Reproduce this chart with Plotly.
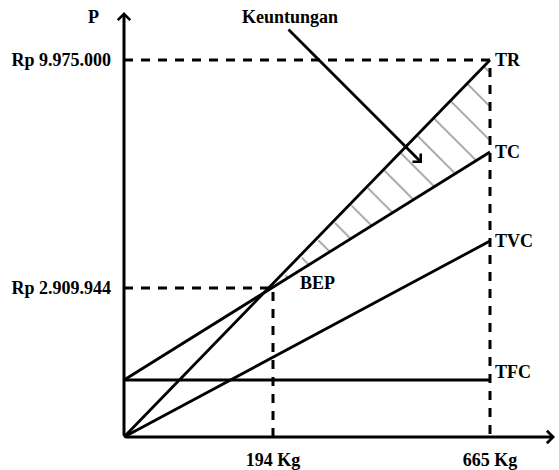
import plotly.graph_objects as go

# Schematic break-even chart (drawing is not to scale, positions are schematic units)
q_labels = ["194 Kg", "665 Kg"]
q_pos = [149, 366]
p_labels = ["Rp 2.909.944", "Rp 9.975.000"]
p_pos = [149, 377]

q_line = [0, 366]
tr = [0, 377]
tc = [57, 285]
tvc = [0, 196]
tfc = [57, 57]
curve_names = ["TR", "TC", "TVC", "TFC"]

FONT = "Liberation Serif"
tf = dict(family=FONT, size=18, color="black", weight="bold")

fig = go.Figure()

# hatched profit area (between TR and TC after BEP)
fig.add_trace(go.Scatter(
    x=[q_pos[0], q_line[1], q_line[1], q_pos[0]],
    y=[p_pos[0], tr[1], tc[1], p_pos[0]],
    fill="toself", mode="none", fillcolor="white",
    fillpattern=dict(shape="\\", size=24, solidity=0.06, fgcolor="#111", bgcolor="white"),
    showlegend=False, hoverinfo="skip"))

# dashed guide lines
dash = dict(color="black", width=3, dash="9px,8px")
fig.add_trace(go.Scatter(x=[0, q_pos[1], q_pos[1]], y=[p_pos[1], p_pos[1], 0],
                         mode="lines", line=dash, showlegend=False))
fig.add_trace(go.Scatter(x=[0, q_pos[0], q_pos[0]], y=[p_pos[0], p_pos[0], 0],
                         mode="lines", line=dash, showlegend=False))

for name, ys in zip(curve_names, [tr, tc, tvc, tfc]):
    fig.add_trace(go.Scatter(x=q_line, y=ys, mode="lines", name=name,
                             line=dict(color="black", width=2.8), showlegend=False))
    fig.add_annotation(x=q_line[1] + 3, y=ys[1] + (8 if name == "TFC" else 0), text=name,
                       showarrow=False, xanchor="left", yanchor="middle", font=tf)

fig.add_annotation(x=q_pos[0] + 25, y=p_pos[0] + 5, text="BEP", showarrow=False,
                   xanchor="left", yanchor="middle", font=tf)

# axes with arrows
for (x, y) in [(0, 425), (431, 0)]:
    fig.add_annotation(x=x, y=y, ax=0, ay=0, axref="x", ayref="y", xref="x", yref="y",
                       text="", showarrow=True, arrowhead=4, arrowsize=0.8,
                       arrowwidth=3, arrowcolor="black", standoff=0, startstandoff=0)
fig.add_annotation(x=-0.047, y=0.966, xref="paper", yref="paper", text="P",
                   xanchor="center", yanchor="middle", showarrow=False, font=tf)
fig.add_annotation(x=425, y=-25, text="Q", showarrow=False, font=tf)

# Keuntungan arrow
fig.add_annotation(x=298, y=274, ax=163, ay=409, axref="x", ayref="y",
                   text="", showarrow=True, arrowhead=4, arrowsize=0.8,
                   arrowwidth=2.8, arrowcolor="black")
fig.add_annotation(x=166, y=420, text="Keuntungan", showarrow=False, font=tf)

fig.update_layout(
    width=559, height=470,
    margin=dict(l=114, r=0, t=2, b=23),
    paper_bgcolor="white", plot_bgcolor="white",
    xaxis=dict(range=[-10, 435], showgrid=False, zeroline=False, showline=False,
               tickvals=q_pos, ticktext=q_labels, ticks="", tickfont=tf,
               ticklabelstandoff=0, automargin=False),
    yaxis=dict(range=[-10, 435], showgrid=False, zeroline=False, showline=False,
               tickvals=p_pos, ticktext=p_labels, ticks="", tickfont=tf,
               ticklabelstandoff=2, automargin=False),
)
fig.write_html("out.html", config={"displayModeBar": False},
               post_script="document.body.style.margin='0';document.body.style.overflow='hidden';")
